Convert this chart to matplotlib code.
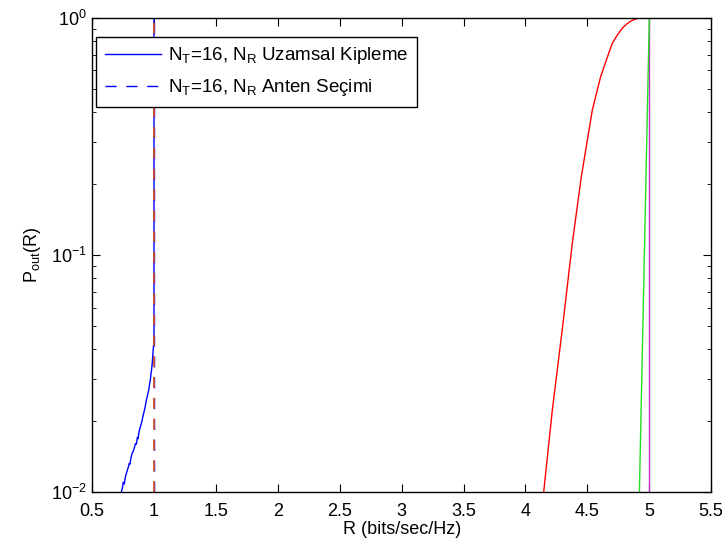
import matplotlib
matplotlib.use("Agg")
import matplotlib.pyplot as plt
from matplotlib.ticker import LogLocator, NullFormatter

plt.rcParams['font.family'] = ['Liberation Sans', 'DejaVu Sans']
plt.rcParams['mathtext.fontset'] = 'custom'
plt.rcParams['mathtext.rm'] = 'Liberation Sans'
plt.rcParams['mathtext.it'] = 'Liberation Sans'

# spatial modulation curve (blue, solid), a bit jagged
sm_r = [0.736, 0.745, 0.752, 0.760, 0.768, 0.775, 0.784, 0.792, 0.800, 0.806,
        0.815, 0.824, 0.833, 0.842, 0.850, 0.858, 0.866, 0.872, 0.878, 0.887,
        0.895, 0.903, 0.910, 0.918, 0.925, 0.932, 0.938, 0.946, 0.952, 0.958,
        0.964, 0.970, 0.975, 0.981, 0.986, 0.990, 0.995, 1.0, 1.0]
sm_p = [0.0100, 0.0104, 0.0110, 0.0108, 0.0115, 0.0119, 0.0123, 0.0127, 0.0132,
        0.0131, 0.0140, 0.0146, 0.0149, 0.0154, 0.0160, 0.0159, 0.0170, 0.0168,
        0.0178, 0.0186, 0.0192, 0.0199, 0.0208, 0.0216, 0.0224, 0.0233, 0.0244,
        0.0253, 0.0262, 0.0270, 0.0285, 0.0296, 0.0312, 0.0330, 0.0350, 0.0375,
        0.0405, 0.0440, 1.0]
# antenna selection (dashed) - step at R=1
as_r = [1.0, 1.0]
as_p = [0.01, 1.0]
# red curve
red_r = [4.147, 4.217, 4.300, 4.378, 4.451, 4.540, 4.607, 4.660, 4.701, 4.742,
         4.782, 4.820, 4.850, 4.880, 4.904, 4.930, 4.955, 5.0]
red_p = [0.0100, 0.0222, 0.0499, 0.112, 0.214, 0.409, 0.565, 0.680, 0.781, 0.847,
         0.905, 0.945, 0.968, 0.985, 0.994, 0.999, 1.0, 1.0]
# green curve
green_r = [4.92, 4.96, 5.0]
green_p = [0.01, 0.1, 1.0]
# magenta step
mag_r = [5.0, 5.0]
mag_p = [0.01, 1.0]

fig = plt.figure(figsize=(7.25, 5.5), dpi=100)
ax = fig.add_axes([0.127, 0.1055, 0.854, 0.862])

ax.plot(sm_r, sm_p, color='blue', lw=1.0, label=r'N$_T$=16, N$_R$ Uzamsal Kipleme')
ax.plot(as_r, as_p, color='blue', lw=1.0, ls=(0, (8, 7)), label=r'N$_T$=16, N$_R$ Anten Seçimi')
ax.plot(as_r, as_p, color='#D95319', lw=1.2, ls=(0, (6.5, 6)))
ax.plot(mag_r, mag_p, color='#C030C8', lw=1.0)
ax.plot(red_r, red_p, color='red', lw=1.0)
ax.plot(green_r, green_p, color='#22DD22', lw=1.0)

ax.set_yscale('log')
ax.set_xlim(0.5, 5.5)
ax.set_ylim(0.01, 1.0)
ax.set_xticks([0.5, 1, 1.5, 2, 2.5, 3, 3.5, 4, 4.5, 5, 5.5])
ax.set_xticklabels(['0.5', '1', '1.5', '2', '2.5', '3', '3.5', '4', '4.5', '5', '5.5'])
ax.yaxis.set_major_locator(LogLocator(base=10, numticks=5))
ax.yaxis.set_minor_locator(LogLocator(base=10, subs=range(2, 10), numticks=10))
ax.yaxis.set_minor_formatter(NullFormatter())
ax.tick_params(which='both', direction='in', top=True, right=True, labelsize=13)
ax.tick_params(axis='x', pad=8)
ax.tick_params(which='major', length=6, width=0.8)
ax.tick_params(which='minor', length=3, width=0.6)
for s in ax.spines.values():
    s.set_linewidth(1.0)

ax.set_xlabel('R (bits/sec/Hz)', fontsize=13, labelpad=1)
ax.set_ylabel(r'P$_{out}$(R)', fontsize=13, labelpad=6)

leg = ax.legend(loc='upper left', bbox_to_anchor=(-0.008, 0.98), fontsize=13.5,
                fancybox=False, framealpha=1, edgecolor='black', handlelength=3.0,
                handletextpad=0.35, borderpad=0.45, labelspacing=0.6)
leg.get_frame().set_linewidth(1.0)

fig.savefig('out.png', dpi=100)
